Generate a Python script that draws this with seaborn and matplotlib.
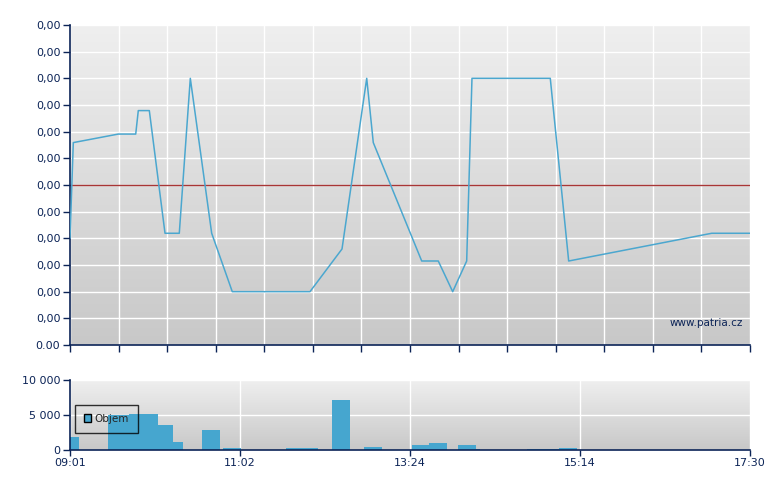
import numpy as np
import matplotlib
matplotlib.use("Agg")
import matplotlib.pyplot as plt
import seaborn as sns
from matplotlib.colors import LinearSegmentedColormap
from matplotlib.patches import Patch

# ---- data (x in chart slots 0..140, price in arbitrary units 0..12) ----
price_x = [0, 0.68, 9.94, 13.53, 14.06, 16.33, 19.56, 22.5, 24.77, 29.17, 33.41,
           49.41, 56.0, 61.09, 62.44, 72.41, 75.82, 78.79, 81.67, 82.76, 98.88,
           102.67, 132.12, 140]
price_y = [4.0, 7.59, 7.91, 7.91, 8.79, 8.79, 4.19, 4.19, 10.0, 4.19, 2.0,
           2.0, 3.6, 10.0, 7.59, 3.15, 3.15, 2.0, 3.15, 10.0, 10.0,
           3.15, 4.19, 4.19]
ref_price = 6.0
price_ticks = list(range(0, 13))
price_labels = ["0.00"] + ["0,00"] * 12

vol_start = [0, 7.82, 12.15, 18.12, 21.2, 27.18, 31.5, 44.47, 53.94, 60.53,
             70.41, 73.91, 79.88, 83.59, 94.09, 100.68]
vol_end = [1.85, 12.15, 18.12, 21.2, 23.26, 30.88, 35.2, 51.06, 57.65, 64.24,
           73.91, 77.62, 83.59, 84.41, 100.68, 104.38]
vol = [1860, 5000, 5150, 3570, 1140, 2860, 300, 300, 7140, 430,
       710, 1000, 710, 140, 150, 300]
vol_ticks = [0, 5000, 10000]
vol_labels = ["0", "5 000", "10 000"]
time_ticks = [0, 35, 70, 105, 140]
time_labels = ["09:01", "11:02", "13:24", "15:14", "17:30"]

NAVY = "#0c2457"
LINE = "#4ba7cf"
BAR = "#46a6cf"

sns.set_style("white")
plt.rcParams["font.family"] = ["DejaVu Sans"]

fig = plt.figure(figsize=(7.8, 4.9), dpi=100)
ax1 = fig.add_axes([70/780, 1-345/490, 680/780, 320/490])
ax2 = fig.add_axes([70/780, 1-450/490, 680/780, 70/490])

cmap = LinearSegmentedColormap.from_list("bg", ["#efefef", "#c8c8c8"])
grad = np.linspace(0, 1, 256)[:, None]

for ax in (ax1, ax2):
    ax.imshow(grad, extent=(0, 1, 0, 1), transform=ax.transAxes,
              aspect="auto", cmap=cmap, zorder=0)
    ax.set_axisbelow(True)
    ax.grid(True, color="white", linewidth=1.0)
    for s in ("top", "right"):
        ax.spines[s].set_visible(False)
    for s in ("left", "bottom"):
        ax.spines[s].set_color(NAVY)
        ax.spines[s].set_linewidth(1.2)
    ax.tick_params(bottom=True, left=True, direction="out", length=5, width=1,
                   color=NAVY, labelcolor=NAVY, labelsize=8, pad=2)

# price panel
sns.lineplot(x=price_x, y=price_y, ax=ax1, color=LINE, linewidth=1.1,
             estimator=None, sort=False, zorder=3)
ax1.axhline(ref_price, color="#a83636", linewidth=1, zorder=2)
ax1.set_xlim(0, 140)
ax1.set_ylim(0, 12)
ax1.set_xticks(np.arange(0, 141, 10))
ax1.set_xticklabels([])
ax1.set_yticks(price_ticks)
ax1.set_yticklabels(price_labels)
ax1.text(0.99, 0.069, "www.patria.cz", transform=ax1.transAxes, ha="right",
         va="center", fontsize=7.5, color=NAVY)

# volume panel
widths = [e - s for s, e in zip(vol_start, vol_end)]
ax2.bar(vol_start, vol, width=widths, align="edge", color=BAR,
        edgecolor="none", zorder=2)
ax2.set_xlim(0, 140)
ax2.set_ylim(0, 10000)
ax2.set_yticks(vol_ticks)
ax2.set_yticklabels(vol_labels)
ax2.set_xticks(time_ticks)
ax2.set_xticklabels(time_labels)
ax2.tick_params(axis="x", length=4)
handle = Patch(facecolor=BAR, edgecolor="black", linewidth=1, label="Objem")
leg = ax2.legend(handles=[handle], loc="upper left",
                 bbox_to_anchor=(0.007, 0.643), borderaxespad=0,
                 frameon=True, fancybox=False, handlelength=0.75,
                 handleheight=0.75, handletextpad=0.3, fontsize=7.5,
                 borderpad=0.85)
leg.get_frame().set_edgecolor("black")
leg.get_frame().set_facecolor("none")
leg.get_frame().set_linewidth(1)

fig.savefig("out.png", dpi=100)
